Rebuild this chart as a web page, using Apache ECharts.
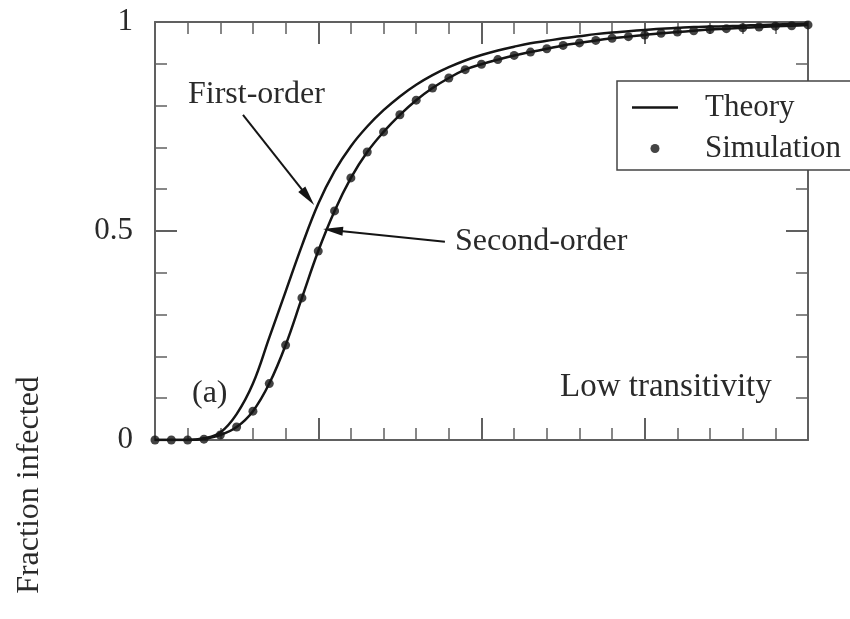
<!DOCTYPE html>
<html>
<head>
<meta charset="utf-8">
<title>Fraction infected</title>
<script src="https://cdn.jsdelivr.net/npm/echarts@6/dist/echarts.min.js"></script>
<style>
  html, body { margin: 0; padding: 0; background: #fff; }
  #chart { width: 850px; height: 619px; }
</style>
</head>
<body>
<div id="chart"></div>
<script>
// Sample positions along the horizontal axis
const xValues = [0.0, 0.1, 0.2, 0.3, 0.4, 0.5, 0.6, 0.7, 0.8, 0.9,
                 1.0, 1.1, 1.2, 1.3, 1.4, 1.5, 1.6, 1.7, 1.8, 1.9,
                 2.0, 2.1, 2.2, 2.3, 2.4, 2.5, 2.6, 2.7, 2.8, 2.9,
                 3.0, 3.1, 3.2, 3.3, 3.4, 3.5, 3.6, 3.7, 3.8, 3.9, 4.0];

// First-order theory curve
const firstOrder = [0, 0, 0, 0.004, 0.018, 0.062, 0.135, 0.245, 0.355, 0.465,
                    0.565, 0.643, 0.703, 0.750, 0.789, 0.822, 0.850, 0.873, 0.892, 0.908,
                    0.921, 0.932, 0.941, 0.949, 0.955, 0.961, 0.966, 0.971, 0.975, 0.978,
                    0.981, 0.984, 0.986, 0.988, 0.989, 0.990, 0.991, 0.993, 0.994, 0.995, 0.996];

// Second-order theory curve
const secondOrder = [0, 0, 0, 0.003, 0.012, 0.031, 0.069, 0.135, 0.227, 0.340,
                     0.452, 0.548, 0.627, 0.689, 0.737, 0.778, 0.813, 0.842, 0.866, 0.886,
                     0.899, 0.910, 0.920, 0.928, 0.936, 0.944, 0.950, 0.956, 0.961, 0.965,
                     0.969, 0.973, 0.976, 0.979, 0.982, 0.984, 0.986, 0.988, 0.990, 0.991, 0.993];

// Simulation results
const simulation = [0, 0, 0, 0.002, 0.012, 0.031, 0.069, 0.135, 0.227, 0.340,
                    0.452, 0.548, 0.627, 0.689, 0.737, 0.778, 0.813, 0.842, 0.866, 0.886,
                    0.899, 0.910, 0.920, 0.928, 0.936, 0.944, 0.950, 0.956, 0.961, 0.965,
                    0.969, 0.973, 0.976, 0.979, 0.982, 0.984, 0.986, 0.988, 0.990, 0.991, 0.993];

const yTicks = [0, 0.5, 1];

const FONT = 'Liberation Serif';
const INK = '#151515';
const AXIS = '#606060';
const TEXT = '#2a2a2a';

const pairs = (xs, ys) => xs.map((x, i) => [x, ys[i]]);

const xAxisBase = {
  type: 'value', min: 0, max: 4, interval: 1,
  axisLine: { show: true, onZero: false, lineStyle: { color: AXIS, width: 2 } },
  axisTick: { show: true, inside: true, length: 22, lineStyle: { color: AXIS, width: 2 } },
  minorTick: { show: true, splitNumber: 5, length: 12, lineStyle: { color: AXIS, width: 1.5 } },
  axisLabel: { show: false },
  splitLine: { show: false }
};
const yAxisBase = {
  type: 'value', min: 0, max: 1, interval: 0.5,
  axisLine: { show: true, onZero: false, lineStyle: { color: AXIS, width: 2 } },
  axisTick: { show: true, inside: true, length: 22, lineStyle: { color: AXIS, width: 2 } },
  minorTick: { show: true, splitNumber: 5, length: 12, lineStyle: { color: AXIS, width: 1.5 } },
  splitLine: { show: false }
};

const chart = echarts.init(document.getElementById('chart'), null, { renderer: 'canvas' });

chart.setOption({
  animation: false,
  backgroundColor: '#fff',
  grid: { left: 155, right: 42, top: 22, bottom: 179 },
  xAxis: [
    Object.assign({}, xAxisBase, { position: 'bottom' }),
    Object.assign({}, xAxisBase, { position: 'top' })
  ],
  yAxis: [
    Object.assign({}, yAxisBase, {
      position: 'left',
      axisLabel: {
        show: true, margin: 22, color: TEXT, fontFamily: FONT, fontSize: 31,
        formatter: v => (yTicks.indexOf(v) >= 0 ? String(v) : '')
      }
    }),
    Object.assign({}, yAxisBase, { position: 'right', axisLabel: { show: false } })
  ],
  legend: {
    // the theory entry shows a plain line segment
    data: [{ name: 'Theory', icon: 'path://M0,0h46v2.5h-46z' }, { name: 'Simulation' }],
    orient: 'vertical',
    left: 617, top: 81,
    padding: [11, 60, 6, 15],
    itemGap: 10,
    itemWidth: 46, itemHeight: 9,
    borderColor: '#444', borderWidth: 1.5,
    backgroundColor: '#fff',
    selectedMode: false,
    formatter: name => '{t|' + name + '}',
    textStyle: {
      color: TEXT, fontFamily: FONT, fontSize: 31,
      rich: { t: { padding: [0, 0, 0, 22], fontFamily: FONT, fontSize: 31, lineHeight: 30, color: TEXT } }
    }
  },
  series: [
    {
      name: 'Theory', type: 'line', data: pairs(xValues, firstOrder),
      symbol: 'none', smooth: 0.4,
      lineStyle: { color: INK, width: 2.5 }, itemStyle: { color: INK },
      z: 3,
      markLine: {
        silent: true, animation: false,
        symbol: ['none', 'triangle'], symbolSize: [9, 20],
        label: { show: false },
        lineStyle: { color: INK, width: 2, type: 'solid' },
        data: [
          [{ coord: [0.539, 0.778] }, { coord: [0.937, 0.581] }],
          [{ coord: [1.776, 0.474] }, { coord: [1.09, 0.502] }]
        ]
      }
    },
    {
      name: 'Theory', type: 'line', data: pairs(xValues, secondOrder),
      symbol: 'none', smooth: 0.4,
      lineStyle: { color: INK, width: 2.5 }, itemStyle: { color: INK },
      z: 3
    },
    {
      name: 'Simulation', type: 'scatter', data: pairs(xValues, simulation),
      symbol: 'circle', symbolSize: 9,
      itemStyle: { color: INK },
      z: 4
    }
  ],
  graphic: [
    { type: 'text', left: 188, top: 79, style: { text: 'First-order', font: '32px "Liberation Serif"', fill: TEXT } },
    { type: 'text', left: 455, top: 226, style: { text: 'Second-order', font: '32px "Liberation Serif"', fill: TEXT } },
    { type: 'text', left: 192, top: 378, style: { text: '(a)', font: '32px "Liberation Serif"', fill: TEXT } },
    { type: 'text', left: 560, top: 371, style: { text: 'Low transitivity', font: '33px "Liberation Serif"', fill: TEXT } },
    {
      type: 'text', x: 30, y: 485, rotation: Math.PI / 2,
      style: { text: 'Fraction infected', font: '32px "Liberation Serif"', fill: TEXT, align: 'center', verticalAlign: 'middle' }
    }
  ]
});
</script>
</body>
</html>
